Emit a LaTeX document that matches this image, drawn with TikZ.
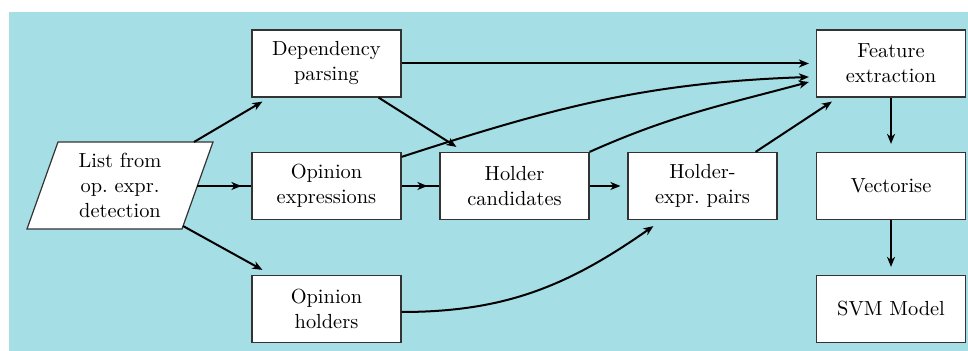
\documentclass[tikz,border=0pt]{standalone}
\usetikzlibrary{arrows.meta,calc}
\definecolor{bgcyan}{RGB}{166,222,229}
\pgfdeclarelayer{back}
\pgfsetlayers{back,main}
\begin{document}
\begin{tikzpicture}[x=0.5pt,y=0.5pt,
  txt/.style={font=\fontsize{10.2}{12.5}\selectfont, align=center},
  box/.style={txt, draw=black!80, line width=0.6pt, fill=white,
    minimum width=74.5pt, minimum height=33.5pt, inner sep=0pt},
  wire/.style={line width=1pt},
  flow/.style={wire, -{Stealth[length=5pt,width=4pt,inset=1.5pt]}},
  gap/.style={shorten >=#1},
  gap/.default=3.5pt]
\useasboundingbox (0,0) rectangle (968,351);
\begin{pgfonlayer}{back}
  \fill[bgcyan] (9,0) rectangle (968,339);
\end{pgfonlayer}

% input list (parallelogram)
\draw[draw=black!80, line width=0.6pt, fill=white]
  (27,122) -- (182,122) -- (213,209) -- (58,209) -- cycle;
\node[txt] (par) at (120,165.5) {List from\\op.~expr.\\detection};
\coordinate (pt) at (194,209);
\coordinate (pr) at (197,165);
\coordinate (pb) at (183,125);

% processing steps
\node[box] (dep) at (326.5,287.5) {Dependency\\parsing};
\node[box] (oe)  at (326.5,165)   {Opinion\\expressions};
\node[box] (oh)  at (326.5,42)    {Opinion\\holders};
\node[box] (hc)  at (514.5,165)   {Holder\\candidates};
\node[box] (hep) at (702.5,165)   {Holder-\\expr.~pairs};
\node[box] (fe)  at (891,287.5)   {Feature\\extraction};
\node[box] (vec) at (891,165)     {Vectorise};
\node[box] (svm) at (891,42)      {SVM Model};

% line from the list running straight through to the holder candidates
\begin{pgfonlayer}{back}
  \draw[wire, line width=1.3pt] (pr) -- (hc.west);
\end{pgfonlayer}

% connectors
\draw[flow] (pt) -- ($(dep.south west)+(11,-4)$);
\draw[flow, line width=1.3pt, gap=5pt] (pr) -- (oe.west);
\draw[flow] (pb) -- ($(oh.north west)+(11,5)$);

\draw[flow, gap] (dep.east) -- (fe.west);
\draw[flow] ($(dep.south east)+(-23,0)$) -- ($(hc.north west)+(17,5)$);
\draw[flow, line width=1.3pt, gap=6pt] (oe.east) -- (hc.west);
\draw[flow] ($(oe.north east)+(0,-5)$) to[out=18,in=182] ($(fe.west)+(-7,-13.5)$);
\draw[flow] (hc.north east) to[out=24,in=195] ($(fe.west)+(-7,-18.5)$);
\draw[flow, gap] (hc.east) -- (hep.west);
\draw[flow] ($(oh.east)+(0,-3)$) to[out=0,in=215] ($(hep.south west)+(26,-6)$);
\draw[flow] ($(hep.north east)+(-22,0)$) -- ($(fe.south west)+(16,-4)$);

\draw[flow, gap=4pt] (fe) -- (vec);
\draw[flow, gap=4pt] (vec) -- (svm);
\end{tikzpicture}
\end{document}
